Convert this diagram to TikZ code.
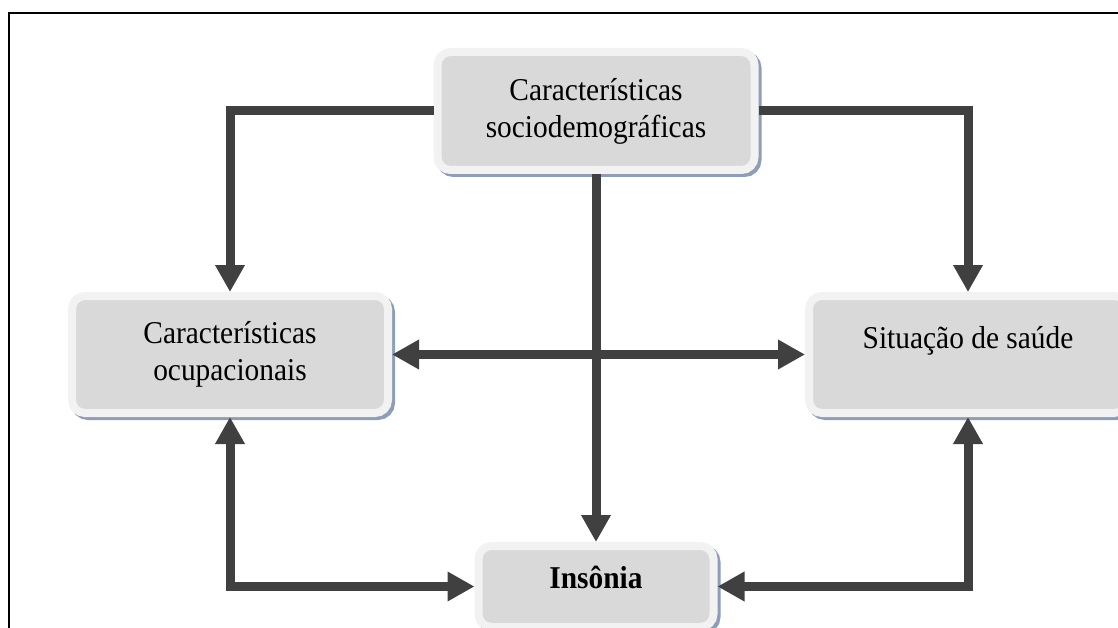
\documentclass[tikz,border=0pt]{standalone}
\usepackage{fontspec}
\usepackage{graphicx}
\setmainfont{Liberation Serif}
\usetikzlibrary{arrows.meta,shadows}
\definecolor{arrowgray}{HTML}{404040}
\definecolor{boxfill}{HTML}{D9D9D9}
\definecolor{boxrim}{HTML}{F2F2F2}
\definecolor{shadowblue}{HTML}{8E9DB8}
\newcommand\vstr[1]{\scalebox{1}[1.08]{#1}}
\tikzset{
  box/.style={draw=boxrim, line width=8pt, fill=boxfill, rounded corners=13pt,
    inner sep=0pt, align=center, font=\fontsize{29.4}{37}\selectfont,
    drop shadow={shadow xshift=3pt, shadow yshift=-3pt, fill=shadowblue,
      draw=shadowblue, line width=8pt, opacity=1}},
  arr/.style={draw=arrowgray, line width=9pt,
    -{Triangle[width=28pt,length=27pt]}},
  darr/.style={draw=arrowgray, line width=9pt,
    {Triangle[width=28pt,length=27pt]}-{Triangle[width=28pt,length=27pt]}},
}
\begin{document}
\begin{tikzpicture}[x=1pt,y=-1pt]
\useasboundingbox (0,0) rectangle (1118,628);
\clip (0,0) rectangle (1118,628);
\draw[line width=2pt, line cap=rect] (9,628) -- (9,13) -- (1118,13);

\node[box, minimum width=317pt, minimum height=118pt] (socio) at (596,111)
  {\vstr{Características}\\\vstr{sociodemográficas}};
\node[box, minimum width=316pt, minimum height=117pt] (occup) at (230,354.5)
  {\vstr{Características}\\\vstr{ocupacionais}};
\node[box, minimum width=318pt, minimum height=117pt, text height=23pt, text depth=36pt] (saude) at (968,354.5)
  {\vstr{Situação de saúde}};
\node[box, minimum width=235pt, minimum height=81pt, text height=23pt, text depth=20pt,
  font=\fontsize{29.4}{37}\selectfont\bfseries] (ins) at (596,586.5)
  {\vstr{Insônia}};

\coordinate (cl) at (230,111);
\coordinate (cr) at (968,111);
\coordinate (bl) at (230,586.5);
\coordinate (br) at (968,586.5);

\draw[arr] (socio.west) -- (cl) -- (occup.north);
\draw[arr] (socio.east) -- (cr) -- (saude.north);
\draw[arr] (socio.south) -- (ins.north);
\draw[darr] (occup.east) -- (saude.west);
\draw[darr] (occup.south) -- (bl) -- (ins.west);
\draw[darr] (saude.south) -- (br) -- (ins.east);
\end{tikzpicture}
\end{document}
